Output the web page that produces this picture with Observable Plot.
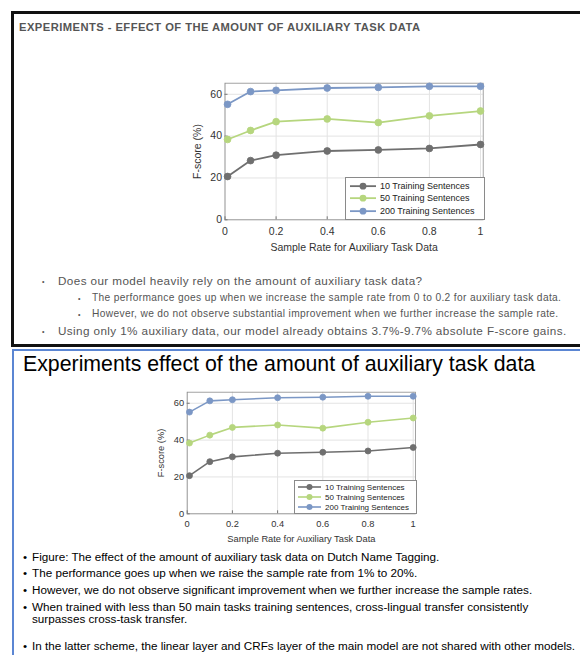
<!DOCTYPE html>
<html>
<head>
<meta charset="utf-8">
<script src="https://cdn.jsdelivr.net/npm/d3@7"></script>
<script src="https://cdn.jsdelivr.net/npm/@observablehq/plot@0.6"></script>
<style>
  html, body { margin: 0; padding: 0; background: #fff; }
  body { width: 580px; height: 655px; position: relative; overflow: hidden;
         font-family: "Liberation Sans", Arial, Helvetica, sans-serif; }
  .abs { position: absolute; white-space: nowrap; }
  .frame1 { position: absolute; left: 11px; top: 11px; width: 620px; height: 330px;
            border: 3px solid #111; }
  .frame2 { position: absolute; left: 12px; top: 349px; width: 620px; height: 340px;
            border: 2px solid #5b86d3; }
  .t1 { left: 19px; top: 21px; font-size: 11.2px; font-weight: bold; color: #555; letter-spacing: 0.45px; }
  .b1 { font-size: 11.7px; color: #555; letter-spacing: 0.4px; line-height: 1; }
  .b1s { font-size: 10.2px; color: #555; letter-spacing: 0.35px; line-height: 1; }
  .t2 { left: 23px; top: 352px; font-size: 21.3px; color: #000; line-height: 1.2; }
  .b2 { font-size: 11.7px; color: #000; line-height: 1; }
  .legend { position: absolute; background: #fff; border: 1px solid #8a8a8a; color: #222; }
  .legend .row { display: flex; align-items: center; white-space: nowrap; }
  .legend svg { display: block; }
</style>
</head>
<body>
<script>
// ---------------- data ----------------
const sampleRates = [0.01, 0.1, 0.2, 0.4, 0.6, 0.8, 1];
const series10  = [20.7, 28.3, 30.9, 32.9, 33.4, 34.1, 36.0];
const series50  = [38.4, 42.7, 46.9, 48.2, 46.5, 49.7, 52.0];
const series200 = [55.2, 61.3, 61.9, 63.0, 63.3, 63.8, 63.8];
const seriesNames = ["10 Training Sentences", "50 Training Sentences", "200 Training Sentences"];
const seriesColors = ["#6f6f6f", "#b6d67e", "#7b97c5"];
const xTicks = [0, 0.2, 0.4, 0.6, 0.8, 1];
const yTicks = [0, 20, 40, 60];
const xLabel = "Sample Rate for Auxiliary Task Data";
const yLabel = "F-score (%)";

const topTitle = "EXPERIMENTS - EFFECT OF THE AMOUNT OF AUXILIARY TASK DATA";
const topBullets = [
  {level: 0, text: "Does our model heavily rely on the amount of auxiliary task data?"},
  {level: 1, text: "The performance goes up when we increase the sample rate from 0 to 0.2 for auxiliary task data."},
  {level: 1, text: "However, we do not observe substantial improvement when we further increase the sample rate."},
  {level: 0, text: "Using only 1% auxiliary data, our model already obtains 3.7%-9.7% absolute F-score gains."}
];
const bottomTitle = "Experiments effect of the amount of auxiliary task data";
const bottomBullets = [
  ["Figure: The effect of the amount of auxiliary task data on Dutch Name Tagging."],
  ["The performance goes up when we raise the sample rate from 1% to 20%."],
  ["However, we do not observe significant improvement when we further increase the sample rates."],
  ["When trained with less than 50 main tasks training sentences, cross-lingual transfer consistently", "surpasses cross-task transfer."],
  ["In the latter scheme, the linear layer and CRFs layer of the main model are not shared with other models."]
];

const allSeries = [series10, series50, series200];
const table = allSeries.flatMap((vals, i) =>
  vals.map((v, j) => ({rate: sampleRates[j], score: v, series: seriesNames[i]})));

// ---------------- helpers ----------------
function el(tag, cls, text, style) {
  const e = document.createElement(tag);
  if (cls) e.className = cls;
  if (text != null) e.textContent = text;
  if (style) Object.assign(e.style, style);
  document.body.appendChild(e);
  return e;
}

function makeChart(o) {
  const chart = Plot.plot({
    width: o.width, height: o.height,
    marginLeft: o.ml, marginRight: o.mr, marginTop: o.mt, marginBottom: o.mb,
    style: {fontFamily: "'Liberation Sans', Arial, Helvetica, sans-serif", fontSize: o.fs + "px", color: "#333", background: "transparent"},
    x: {domain: [0, o.xmax]},
    y: {domain: [0, o.ymax]},
    color: {domain: seriesNames, range: seriesColors},
    marks: [
      Plot.gridX(xTicks, {stroke: "#e3e3e3", strokeOpacity: 1}),
      Plot.gridY(yTicks, {stroke: "#e3e3e3", strokeOpacity: 1}),
      Plot.frame({stroke: "#8c8c8c", strokeWidth: 0.8}),
      Plot.axisX({ticks: xTicks, tickFormat: d => String(d), tickSize: -3, tickPadding: o.xtp,
                  stroke: "#777", label: xLabel, labelAnchor: "center", labelArrow: "none",
                  labelOffset: o.xlo, fontSize: o.fs}),
      Plot.axisY({ticks: yTicks, tickFormat: d => String(d), tickSize: -3, tickPadding: 6,
                  stroke: "#777", label: yLabel, labelAnchor: "center", labelArrow: "none",
                  labelOffset: o.ylo, fontSize: o.fs}),
      Plot.line(table, {x: "rate", y: "score", z: "series", stroke: "series", strokeWidth: o.sw}),
      Plot.dot(table, {x: "rate", y: "score", fill: "series", stroke: "series", r: o.r, strokeWidth: 0.8})
    ]
  });
  Object.assign(chart.style, {position: "absolute", left: o.left + "px", top: o.top + "px"});
  document.body.appendChild(chart);

  // legend (HTML overlay inside the plot area)
  const lg = el("div", "legend", null, {left: o.lg.left + "px", top: o.lg.top + "px",
    width: o.lg.w + "px", padding: o.lg.pad, fontSize: o.lg.fs + "px"});
  seriesNames.forEach((name, i) => {
    const row = document.createElement("div");
    row.className = "row";
    row.style.height = o.lg.rowH + "px";
    const sw = o.lg.sw;
    row.innerHTML = `<svg width="${sw + 4}" height="${o.lg.rowH}">
      <line x1="1" x2="${sw + 1}" y1="${o.lg.rowH / 2}" y2="${o.lg.rowH / 2}" stroke="${seriesColors[i]}" stroke-width="${o.sw}"/>
      <circle cx="${sw / 2 + 1}" cy="${o.lg.rowH / 2}" r="${o.r}" fill="${seriesColors[i]}"/>
    </svg><span style="margin-left:1px">${name}</span>`;
    lg.appendChild(row);
  });
}

// ---------------- slide 1 ----------------
el("div", "frame1");
el("div", "abs t1", topTitle);
makeChart({left: 180, top: 70, width: 320, height: 200, ml: 44.5, mr: 17.3, mt: 12.7, mb: 50.7,
  xmax: 1.0105, ymax: 65.3, fs: 10.5, sw: 1.8, r: 3.4, xtp: 11, xlo: 31.5, ylo: 31,
  lg: {left: 345, top: 177, w: 134, pad: "2px 1px 2px 3px", fs: 9, rowH: 12.3, sw: 26}});

const tb = [281, 298, 314, 331];
topBullets.forEach((b, i) => {
  const cls = b.level === 0 ? "b1" : "b1s";
  const fs = b.level === 0 ? 11.7 : 10.2;
  el("div", "abs " + cls, "•", {left: (b.level === 0 ? 42 : 78) + "px", top: (tb[i] - 3.5) + "px", fontSize: "7px"});
  el("div", "abs " + cls, b.text, {left: (b.level === 0 ? 58 : 92) + "px", top: (tb[i] - fs / 2) + "px"});
});

// ---------------- slide 2 ----------------
el("div", "frame2");
el("div", "abs t2", bottomTitle);
makeChart({left: 140, top: 385, width: 300, height: 165, ml: 46.7, mr: 25, mt: 6.7, mb: 36.7,
  xmax: 1.0102, ymax: 66, fs: 9.3, sw: 1.6, r: 3.0, xtp: 10, xlo: 28, ylo: 30,
  lg: {left: 294, top: 480, w: 118, pad: "1px 1px 1px 2px", fs: 8, rowH: 10, sw: 23}});

const bb = [[557], [573], [590], [607, 619], [646]];
bottomBullets.forEach((lines, i) => {
  el("div", "abs b2", "•", {left: "23px", top: (bb[i][0] - 6) + "px"});
  lines.forEach((t, k) => el("div", "abs b2", t, {left: "32px", top: (bb[i][k] - 6) + "px"}));
});
</script>
</body>
</html>
